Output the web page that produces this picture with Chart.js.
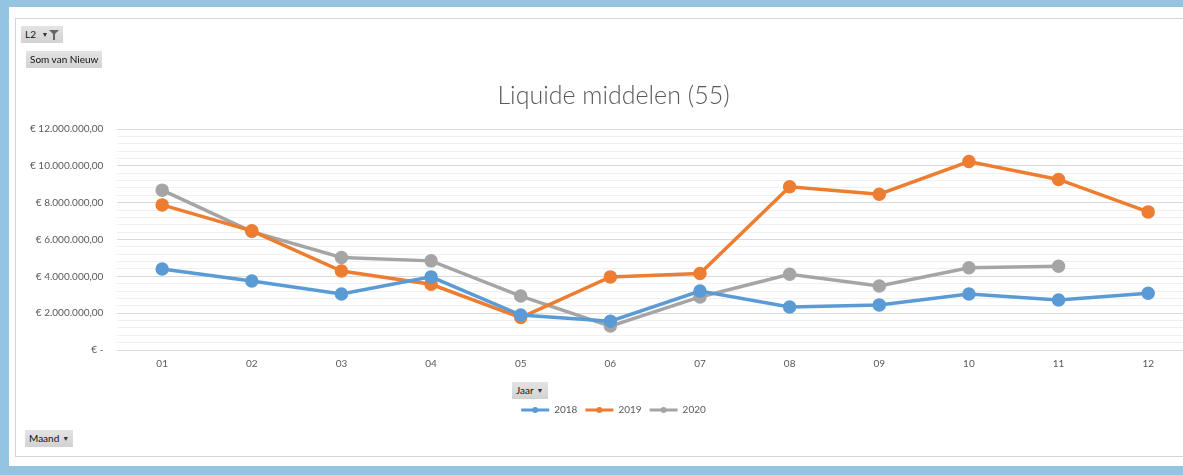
<!DOCTYPE html>
<html>
<head>
<meta charset="utf-8">
<script src="https://cdn.jsdelivr.net/npm/chart.js@4.4.0/dist/chart.umd.min.js"></script>
<style>
    html, body { margin: 0; padding: 0; }
    body {
        width: 1183px; height: 475px; overflow: hidden;
        background: #94c4df; position: relative;
        font-family: Lato, "Open Sans", sans-serif;
    }
    .sheet {
        position: absolute; left: 9px; top: 7px; width: 1200px; height: 459px;
        background: #fff;
    }
    .box {
        position: absolute; left: 15px; top: 18px; width: 1200px; height: 437px;
        border: 1px solid #d6d6d6; background: #fff;
    }
    #chart-wrap {
        position: absolute; left: 16px; top: 19px; width: 1195px; height: 436px;
    }
    .btn {
        position: absolute; background: linear-gradient(#e4e4e4, #d2d2d2);
        font-size: 10px; color: #111; line-height: 17px; height: 17px;
        padding: 0 4px; white-space: nowrap;
    }
    .btn .arr { font-size: 7px; color: #333; margin-left: 3px; position: relative; top: -1px; }
    .funnel {
        display: inline-block; width: 0; height: 0; margin-left: 1px;
        border-left: 5px solid transparent; border-right: 5px solid transparent;
        border-top: 5px solid #666; position: relative; top: -3px;
    }
    .funnel::after {
        content: ''; position: absolute; left: -1px; top: -1px;
        width: 2px; height: 6px; background: #666;
    }
</style>
</head>
<body>
<div class="sheet"></div>
<div class="box"></div>
<div id="chart-wrap"><canvas id="lineChart"></canvas></div>

<div class="btn" style="left:21px; top:26px;">L2 <span class="arr">▼</span><span class="funnel"></span></div>
<div class="btn" style="left:26px; top:51px;">Som van Nieuw</div>
<div class="btn" style="left:512px; top:382px;">Jaar<span class="arr">▼</span></div>
<div class="btn" style="left:25px; top:430px;">Maand<span class="arr">▼</span></div>

<script>
    // maanden
    const months = ['01', '02', '03', '04', '05', '06', '07', '08', '09', '10', '11', '12'];

    // bedragen per jaar (euro)
    const values2018 = [4400000, 3750000, 3040000, 3970000, 1900000, 1560000, 3200000, 2340000, 2450000, 3040000, 2720000, 3080000];
    const values2019 = [7880000, 6470000, 4290000, 3570000, 1760000, 3970000, 4150000, 8860000, 8460000, 10230000, 9260000, 7500000];
    const values2020 = [8680000, 6430000, 5020000, 4840000, 2930000, 1300000, 2880000, 4110000, 3480000, 4470000, 4550000, null];

    const years = ['2018', '2019', '2020'];
    const colors = ['#5b9bd5', '#ed7d31', '#a5a5a5'];

    const yMax = 12000000;
    const yStep = 400000;
    const yMajor = 2000000;

    function euro(v) {
        if (v === 0) return '€ -';
        const s = Math.round(v).toString().replace(/\B(?=(\d{3})+(?!\d))/g, '.');
        return '€ ' + s + ',00';
    }

    const series = [values2018, values2019, values2020];
    const datasets = series.map(function (data, i) {
        return {
            label: years[i],
            data: data,
            borderColor: colors[i],
            backgroundColor: colors[i],
            pointBackgroundColor: colors[i],
            pointBorderColor: colors[i],
            borderWidth: 3.5,
            pointRadius: 5,
            pointHoverRadius: 5,
            tension: 0,
            spanGaps: false
        };
    });

    // dot marker in the middle of each legend line (like Excel)
    const legendDots = {
        id: 'legendDots',
        afterDraw: function (chart) {
            const legend = chart.legend;
            if (!legend || !legend.legendHitBoxes) return;
            const ctx = chart.ctx;
            const bw = legend.options.labels.boxWidth;
            legend.legendHitBoxes.forEach(function (hb, i) {
                ctx.save();
                ctx.fillStyle = colors[i];
                ctx.beginPath();
                ctx.arc(hb.left + bw / 2, hb.top + hb.height / 2, 3, 0, Math.PI * 2);
                ctx.fill();
                ctx.restore();
            });
        }
    };

    new Chart(document.getElementById('lineChart'), {
        type: 'line',
        data: { labels: months, datasets: datasets },
        plugins: [legendDots],
        options: {
            responsive: true,
            maintainAspectRatio: false,
            animation: false,
            layout: { padding: { top: 62, right: 0, bottom: 30, left: 0 } },
            plugins: {
                title: {
                    display: true,
                    text: 'Liquide middelen (55)',
                    color: '#595959',
                    font: { family: 'Lato', size: 25, weight: '300' },
                    padding: { top: 0, bottom: 18 }
                },
                legend: {
                    position: 'bottom',
                    title: {
                        display: true,
                        text: ' ',
                        font: { size: 10 },
                        padding: { top: 4, bottom: 3 }
                    },
                    labels: {
                        boxWidth: 28,
                        boxHeight: 3,
                        color: '#595959',
                        font: { family: 'Lato', size: 10 },
                        padding: 8,
                        generateLabels: function (chart) {
                            return chart.data.datasets.map(function (ds, i) {
                                return {
                                    text: ds.label,
                                    fillStyle: colors[i],
                                    strokeStyle: colors[i],
                                    lineWidth: 0,
                                    fontColor: '#595959',
                                    datasetIndex: i,
                                    hidden: false
                                };
                            });
                        }
                    }
                },
                tooltip: { enabled: false }
            },
            scales: {
                x: {
                    offset: true,
                    grid: { display: false, drawTicks: false },
                    border: { display: false },
                    ticks: {
                        color: '#595959',
                        font: { family: 'Lato', size: 10 },
                        padding: 8
                    }
                },
                y: {
                    min: 0,
                    max: yMax,
                    border: { display: false },
                    grid: {
                        drawTicks: false,
                        color: function (ctx) {
                            return ctx.tick && ctx.tick.value % yMajor === 0 ? '#d9d9d9' : '#f0f0f0';
                        },
                        lineWidth: 1
                    },
                    ticks: {
                        stepSize: yStep,
                        maxTicksLimit: 40,
                        autoSkip: false,
                        color: '#595959',
                        font: { family: 'Lato', size: 10 },
                        padding: 14,
                        callback: function (v) {
                            return v % yMajor === 0 ? euro(v) : '';
                        }
                    }
                },
                // empty right-hand axis, only keeps the plot area off the box edge
                yRight: {
                    position: 'right',
                    grid: { display: false },
                    border: { display: false },
                    ticks: { display: false },
                    afterFit: function (scale) { scale.width = 18; }
                }
            }
        }
    });
</script>
</body>
</html>
